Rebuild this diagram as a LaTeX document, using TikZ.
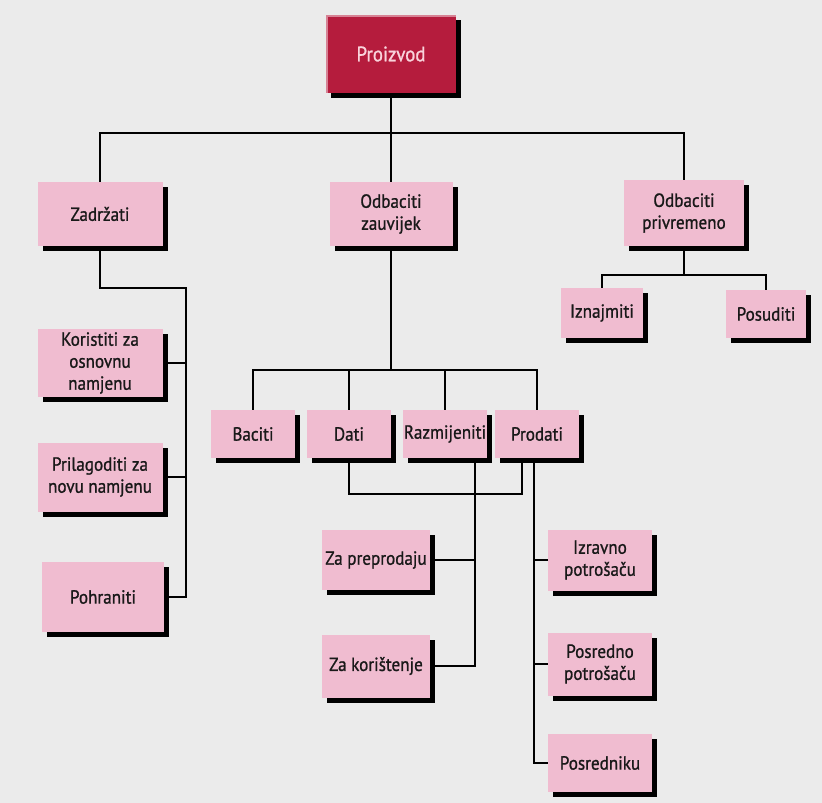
\documentclass[tikz,border=0pt]{standalone}
\usepackage{fontspec}
\setmainfont{PT Sans}[FakeBold=1.0, FakeStretch=0.9]
\usetikzlibrary{shadows}

\definecolor{boxpink}{HTML}{F0BCD0}
\definecolor{rootred}{HTML}{B51C3D}
\definecolor{rootink}{HTML}{F9D3DB}
\definecolor{paper}{HTML}{EBEBEB}

\pgfdeclarelayer{back}
\pgfdeclarelayer{lines}
\pgfsetlayers{back,lines,main}

\tikzset{
    every node/.style={font=\fontsize{19}{22}\selectfont, align=center, inner sep=0pt, text=black!90},
    boxshadow/.style={preaction={fill=black, transform canvas={xshift=5pt, yshift=-5pt}}},
    optbox/.style args={#1x#2}{fill=boxpink, minimum width=#1pt, minimum height=#2pt, boxshadow},
    rootbox/.style={fill=rootred, text=rootink, font=\fontsize{21}{24}\selectfont,
        minimum width=130pt, minimum height=78pt, boxshadow,
        path picture={\draw[rootred!55!white, line width=4pt]
            (path picture bounding box.south west) |- (path picture bounding box.north east);}},
    link/.style={line width=1.3pt, black}
}

\begin{document}
\begin{tikzpicture}[x=1pt, y=-1pt]
    \begin{pgfonlayer}{back}
        \fill[paper] (0,0) rectangle (822,803);
    \end{pgfonlayer}
    \useasboundingbox (0,0) rectangle (822,803);

    % first level
    \node[rootbox] (proizvod) at (391,54) {Proizvod};
    \node[optbox=125x64] (zadrzati) at (100,214) {Zadržati};
    \node[optbox=123x64] (zauvijek) at (391,214) {Odbaciti\\zauvijek};
    \node[optbox=120x66] (privremeno) at (684,213) {Odbaciti\\privremeno};

    % keep
    \node[optbox=125x68] (koristiti) at (100,363) {Koristiti za\\osnovnu\\namjenu};
    \node[optbox=125x69] (prilagoditi) at (100,477) {Prilagoditi za\\novu namjenu};
    \node[optbox=122x70] (pohraniti) at (103,597) {Pohraniti};

    % reject for a while
    \node[optbox=82x50] (iznajmiti) at (602,313) {Iznajmiti};
    \node[optbox=80x48] (posuditi) at (766,314) {Posuditi};

    % reject for good
    \node[optbox=84x48] (baciti) at (253,434) {Baciti};
    \node[optbox=84x48] (dati) at (349,434) {Dati};
    \node[optbox=84x48] (razmijeniti) at (445,434) {Razmijeniti};
    \node[optbox=84x48] (prodati) at (537,434) {Prodati};

    \node[optbox=108x60] (preprodaju) at (376,560) {Za preprodaju};
    \node[optbox=108x63] (koristenje) at (376,666) {Za korištenje};

    \node[optbox=104x61] (izravno) at (600,560) {Izravno\\potrošaču};
    \node[optbox=104x63] (posredno) at (600,664) {Posredno\\potrošaču};
    \node[optbox=104x58] (posredniku) at (600,763) {Posredniku};

    \coordinate (j1) at (391,133);
    \coordinate (j2) at (391,370);
    \coordinate (j3) at (684,275);
    \coordinate (k1) at (186,288);
    \coordinate (k2) at (186,597);
    \coordinate (b1) at (522,494);
    \coordinate (s1) at (475,666);
    \coordinate (s2) at (534,763);

    \begin{pgfonlayer}{lines}
        \draw[link] (proizvod) -- (zauvijek);
        \draw[link] (zadrzati.north) |- (j1) -| (privremeno.north);

        \draw[link] (zadrzati.south) |- (k1) -- (k2) -- (pohraniti.east);
        \draw[link] (koristiti.east) -- (koristiti.east -| k1);
        \draw[link] (prilagoditi.east) -- (prilagoditi.east -| k1);

        \draw[link] (privremeno.south) -- (j3);
        \draw[link] (iznajmiti.north) |- (j3) -| (posuditi.north);

        \draw[link] (zauvijek.south) -- (j2);
        \draw[link] (baciti.north) |- (j2) -| (prodati.north);
        \draw[link] (dati.north) -- (dati.north |- j2);
        \draw[link] (razmijeniti.north) -- (razmijeniti.north |- j2);

        \draw[link] (dati.south) |- (b1) -- (b1 |- prodati.south);
        \draw[link] (s1 |- razmijeniti.south) -- (s1) -- (koristenje.east);
        \draw[link] (preprodaju.east) -- (preprodaju.east -| s1);

        \draw[link] (s2 |- prodati.south) -- (s2) -- (posredniku.west);
        \draw[link] (izravno.west) -- (izravno.west -| s2);
        \draw[link] (posredno.west) -- (posredno.west -| s2);
    \end{pgfonlayer}
\end{tikzpicture}
\end{document}
